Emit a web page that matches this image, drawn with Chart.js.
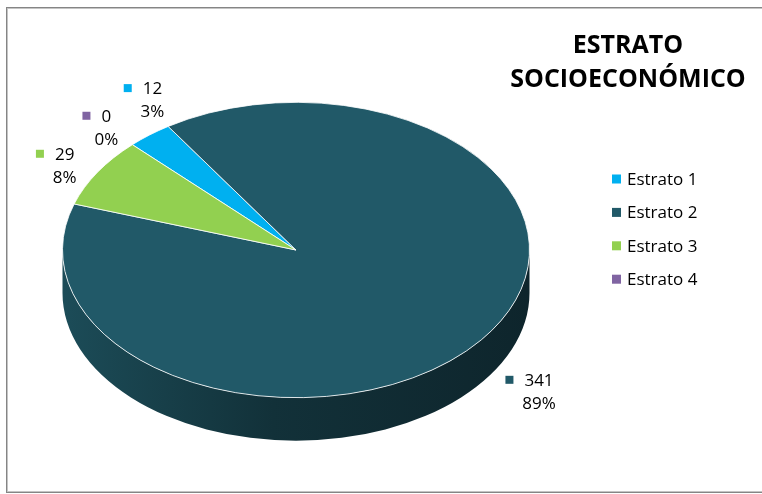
<!DOCTYPE html>
<html>
<head>
<meta charset="utf-8">
<script src="https://cdn.jsdelivr.net/npm/chart.js@4.4.1/dist/chart.umd.min.js"></script>
<style>
  html, body { margin: 0; padding: 0; background: #fff; }
  #wrap { position: relative; width: 762px; height: 494px; overflow: hidden; }
  #marco {
    position: absolute; left: 6px; top: 7px; width: 820px; height: 486px;
    box-sizing: border-box; border: 1px solid #858585; box-shadow: inset 1px 1px 0 #c4c4c4, inset -1px -1px 0 #c4c4c4;
  }
  canvas { position: absolute; left: 0; top: 0; }
</style>
</head>
<body>
<div id="wrap">
  <div id="marco"></div>
  <canvas id="estratoChart" width="762" height="494"></canvas>
</div>
<script>
// Distribución por estrato socioeconómico
const categorias = ['Estrato 1', 'Estrato 2', 'Estrato 3', 'Estrato 4'];
const cantidades = [12, 341, 29, 0];
const colores = ['#00b0f0', '#215968', '#92d050', '#8064a2'];
const tituloLineas = ['ESTRATO', 'SOCIOECONÓMICO'];

const FUENTE = '"Open Sans", "Noto Sans", sans-serif';
const INCLINACION = 148 / 234;  // aplastamiento vertical de la cara superior
const GROSOR = 43;              // altura del lateral del pastel

// desplazamiento fino de cada etiqueta de datos (x, y)
const ajusteEtiqueta = [[28, -12], [26, 7], [1, 9], [2, 4]];

function escalar(hex, f) {
  const n = parseInt(hex.slice(1), 16);
  const r = Math.round(((n >> 16) & 255) * f);
  const g = Math.round(((n >> 8) & 255) * f);
  const b = Math.round((n & 255) * f);
  return `rgb(${r},${g},${b})`;
}

// Pastel 3D: dibuja el lateral y aplasta la cara superior
const pastel3d = {
  id: 'pastel3d',
  beforeDatasetsDraw(chart) {
    const ctx = chart.ctx;
    const arcos = chart.getDatasetMeta(0).data;
    const cx = arcos[0].x, cy = arcos[0].y, r = arcos[0].outerRadius;
    const ry = r * INCLINACION;

    arcos.forEach((arco, i) => {
      const grad = ctx.createLinearGradient(cx - r, 0, cx + r, 0);
      grad.addColorStop(0, escalar(colores[i], 0.85));
      grad.addColorStop(0.45, escalar(colores[i], 0.55));
      grad.addColorStop(1, escalar(colores[i], 0.42));
      // sólo la mitad frontal (0..PI) queda a la vista
      [-2 * Math.PI, 0, 2 * Math.PI].forEach(d => {
        const a0 = Math.max(arco.startAngle + d, 0);
        const a1 = Math.min(arco.endAngle + d, Math.PI);
        if (a1 <= a0) return;
        ctx.beginPath();
        ctx.ellipse(cx, cy, r, ry, 0, a0, a1);
        ctx.ellipse(cx, cy + GROSOR, r, ry, 0, a1, a0, true);
        ctx.closePath();
        ctx.fillStyle = grad;
        ctx.fill();
      });
    });

    ctx.save();
    ctx.translate(cx, cy);
    ctx.scale(1, INCLINACION);
    ctx.translate(-cx, -cy);
  },
  afterDatasetsDraw(chart) {
    chart.ctx.restore();
  }
};

// Título, leyenda y etiquetas de datos
const textos = {
  id: 'textos',
  afterDraw(chart) {
    const ctx = chart.ctx;
    const arcos = chart.getDatasetMeta(0).data;
    const total = cantidades.reduce((a, b) => a + b, 0);
    ctx.save();
    ctx.fillStyle = '#000';

    // título
    ctx.font = `bold 25px ${FUENTE}`;
    ctx.textAlign = 'center';
    ctx.textBaseline = 'alphabetic';
    tituloLineas.forEach((t, i) => ctx.fillText(t, 628, 53 + i * 34));

    // leyenda
    ctx.font = `17px ${FUENTE}`;
    ctx.textAlign = 'left';
    ctx.textBaseline = 'middle';
    categorias.forEach((c, i) => {
      const y = 179 + i * 33.4;
      ctx.fillStyle = colores[i];
      ctx.fillRect(612, y - 4.5, 9, 9);
      ctx.fillStyle = '#000';
      ctx.fillText(c, 627, y + 1);
    });

    // etiquetas: valor y porcentaje
    ctx.textAlign = 'center';
    arcos.forEach((arco, i) => {
      const medio = (arco.startAngle + arco.endAngle) / 2;
      const cos = Math.cos(medio), sin = Math.sin(medio);
      const r = arco.outerRadius;
      let x = arco.x + r * cos + 40 * cos + ajusteEtiqueta[i][0];
      let y = arco.y + r * INCLINACION * sin + 30 * sin + ajusteEtiqueta[i][1];
      if (sin > 0) y += GROSOR * sin;
      const valor = String(cantidades[i]);
      const pct = Math.round(cantidades[i] / total * 100) + '%';
      const w = ctx.measureText(valor).width;
      ctx.fillStyle = colores[i];
      ctx.fillRect(x - w / 2 - 19, y - 11.5 - 4, 8, 8);
      ctx.fillStyle = '#000';
      ctx.fillText(valor, x, y - 11.5 + 1);
      ctx.fillText(pct, x, y + 11.5 + 1);
    });
    ctx.restore();
  }
};

new Chart(document.getElementById('estratoChart'), {
  type: 'pie',
  data: {
    labels: categorias,
    datasets: [{
      data: cantidades,
      backgroundColor: colores,
      borderColor: '#ffffff',
      borderWidth: 1
    }]
  },
  options: {
    responsive: false,
    animation: false,
    events: [],
    rotation: -44.5,
    layout: { padding: { left: 62, right: 232, top: 16, bottom: 10 } },
    plugins: {
      legend: { display: false },
      title: { display: false },
      tooltip: { enabled: false }
    }
  },
  plugins: [pastel3d, textos]
});
</script>
</body>
</html>
